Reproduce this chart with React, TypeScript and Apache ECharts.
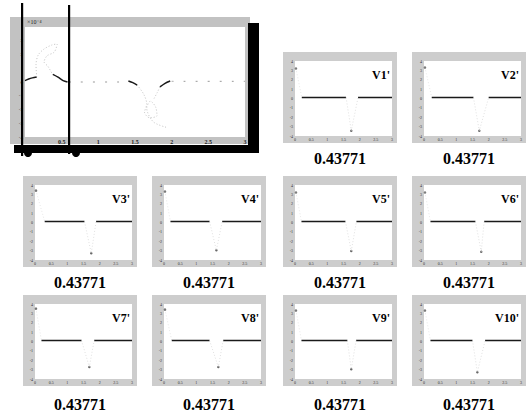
import { useEffect, useRef } from "react";
import * as echarts from "echarts";

// ---- small panels (V1'..V10') ----
const panelNames = ["V1'", "V2'", "V3'", "V4'", "V5'", "V6'", "V7'", "V8'", "V9'", "V10'"];
const panelValues = ["0.43771", "0.43771", "0.43771", "0.43771", "0.43771", "0.43771", "0.43771", "0.43771", "0.43771", "0.43771"];
const peakT = [0.03, 0.03, 0.03, 0.03, 0.03, 0.03, 0.03, 0.03, 0.03, 0.03];
const peakY = [3.2, 3.3, 3.4, 3.3, 3.2, 3.2, 3.5, 3.4, 3.3, 3.3];
const flatStart = [0.21, 0.24, 0.3, 0.2, 0.2, 0.2, 0.2, 0.24, 0.2, 0.2];
const baseY = [0.1, 0.1, 0.1, 0.1, 0.1, 0.1, 0.1, 0.1, 0.1, 0.1];
const gapStart = [1.58, 1.53, 1.53, 1.41, 1.56, 1.59, 1.44, 1.41, 1.62, 1.5];
const gapEnd = [1.95, 2.0, 1.89, 1.8, 1.9, 1.86, 1.83, 1.83, 1.89, 1.89];
const dipT = [1.74, 1.71, 1.74, 1.62, 1.74, 1.77, 1.68, 1.68, 1.74, 1.65];
const dipY = [-3.44, -3.44, -3.28, -2.96, -3.04, -3.12, -2.72, -2.72, -2.96, -3.28];
const tEnd = 3;

// ---- big panel ----
const bigXTicks = ["0.5", "1", "1.5", "2", "2.5", "3"];
const bigYUnit = "×10⁻⁴";
const bigArcA = [[0, 0.1], [0.05, 0.22], [0.1, 0.3], [0.16, 0.36]];
const bigLoopA = [[0.16, 0.36], [0.15, 1.24], [0.18, 1.96], [0.26, 2.4], [0.37, 2.7], [0.44, 2.76], [0.4, 2.18], [0.3, 1.9], [0.26, 1.45], [0.31, 1.16], [0.35, 0.8], [0.38, 0.51]];
const bigArcB = [[0.38, 0.55], [0.45, 0.35], [0.52, 0.1], [0.58, 0]];
const bigFlatA = [[0.6, 0], [1.4, 0]];
const bigArcC = [[1.41, 0.07], [1.47, -0.05], [1.53, -0.22]];
const bigLoopB = [[1.53, -0.22], [1.62, -0.9], [1.66, -1.6], [1.63, -2.2], [1.7, -2.6], [1.8, -2.45], [1.78, -1.8], [1.71, -1.4], [1.66, -1.9], [1.75, -2.9], [1.93, -3.3]];
const bigRise = [[1.76, -1.2], [1.8, -0.8], [1.84, -0.36]];
const bigArcD = [[1.84, -0.36], [1.91, -0.1], [1.98, 0.07]];
const bigFlatB = [[2.0, 0.05], [3, 0.05]];

const SERIF = "'Liberation Serif', 'DejaVu Serif', serif";

export default function App() {
  const ref = useRef<HTMLDivElement>(null);
  useEffect(() => {
    if (!ref.current) return;
    const chart = echarts.init(ref.current, null, { renderer: "svg" });

    const grids: any[] = [];
    const xAxes: any[] = [];
    const yAxes: any[] = [];
    const series: any[] = [];
    const graphics: any[] = [];

    // big panel frame
    graphics.push(
      { type: "rect", shape: { x: 10, y: 17, width: 240, height: 127 }, style: { fill: "#c2c2c2" }, z: -10 },
      { type: "rect", shape: { x: 248, y: 23, width: 11, height: 130 }, style: { fill: "#000" }, z: -9 },
      { type: "rect", shape: { x: 14, y: 145, width: 245, height: 8 }, style: { fill: "#000" }, z: -9 },
      { type: "rect", shape: { x: 21, y: 3, width: 2.2, height: 153 }, style: { fill: "#000" }, z: 20 },
      { type: "rect", shape: { x: 68, y: 5, width: 2.2, height: 149 }, style: { fill: "#000" }, z: 20 },
      { type: "circle", shape: { cx: 28, cy: 153, r: 4 }, style: { fill: "#000" }, z: 20 },
      { type: "circle", shape: { cx: 76, cy: 153, r: 4 }, style: { fill: "#000" }, z: 20 },
      { type: "text", x: 27, y: 19, style: { text: bigYUnit, fontSize: 6, fill: "#222", fontFamily: SERIF }, z: 20 }
    );

    grids.push({ left: 25, top: 27, width: 220, height: 110, show: true, backgroundColor: "#fff", borderWidth: 0 });
    xAxes.push({
      type: "value", gridIndex: 0, min: 0, max: 3, interval: 0.5,
      axisLine: { show: false }, axisTick: { show: false }, splitLine: { show: false },
      axisLabel: {
        fontSize: 6, color: "#222", margin: 2, fontFamily: SERIF, fontWeight: "bold",
        formatter: (v: number) => { const i = Math.round(v / 0.5) - 1; return i >= 0 ? bigXTicks[i] : ""; },
      },
    });
    yAxes.push({
      type: "value", gridIndex: 0, min: -4, max: 4, interval: 1,
      axisLine: { show: false }, axisTick: { show: false }, splitLine: { show: false },
      axisLabel: { fontSize: 5, color: "#222", margin: 2, fontFamily: SERIF, formatter: (v: number) => (v === 4 ? "" : String(v)) },
    });
    const dark = { color: "#1a1a1a", width: 1.5 };
    const faint = { color: "#b4b4b4", width: 0.8, type: [1, 2] };
    const addBig = (data: number[][], ls: any) =>
      series.push({ type: "line", xAxisIndex: 0, yAxisIndex: 0, data, showSymbol: false, smooth: 0.3, lineStyle: ls, silent: true });
    addBig(bigArcA, dark);
    addBig(bigLoopA, faint);
    addBig(bigArcB, dark);
    addBig(bigFlatA, { color: "#999", width: 1, type: [2, 10] });
    addBig(bigArcC, dark);
    addBig(bigLoopB, faint);
    addBig(bigRise, faint);
    addBig(bigArcD, dark);
    addBig(bigFlatB, { color: "#999", width: 1, type: [2, 10] });

    // small panels
    const colX = [23, 152, 283, 412];
    const rowY = [52, 176, 295];
    const labelY = [158, 282, 404];
    const pos = [[2, 0], [3, 0], [0, 1], [1, 1], [2, 1], [3, 1], [0, 2], [1, 2], [2, 2], [3, 2]];
    const fw = 114, fh = 91;
    panelNames.forEach((name, i) => {
      const [c, r] = pos[i];
      const fx = colX[c], fy = rowY[r];
      const gi = i + 1;
      graphics.push(
        { type: "rect", shape: { x: fx, y: fy, width: fw, height: fh }, style: { fill: "#cdcdcd" }, z: -10 },
        { type: "text", x: fx + fw - 7, y: fy + 17, style: { text: name, fontSize: 12, fontWeight: "bold", fill: "#000", fontFamily: SERIF, align: "right" }, z: 20 },
        { type: "text", x: fx + fw / 2, y: labelY[r], style: { text: panelValues[i], fontSize: 16, fontWeight: "bold", fill: "#000", fontFamily: SERIF, align: "center", verticalAlign: "middle" }, z: 20 }
      );
      grids.push({ left: fx + 12, top: fy + 9, width: fw - 17, height: fh - 16, show: true, backgroundColor: "#fff", borderWidth: 0 });
      xAxes.push({
        type: "value", gridIndex: gi, min: 0, max: tEnd, interval: 0.5,
        axisLine: { show: false }, axisTick: { show: false }, splitLine: { show: false },
        axisLabel: { fontSize: 4, color: "#333", margin: 1, fontFamily: SERIF },
      });
      yAxes.push({
        type: "value", gridIndex: gi, min: -4, max: 4, interval: 1,
        axisLine: { show: false }, axisTick: { show: false }, splitLine: { show: false },
        axisLabel: { fontSize: 4, color: "#333", margin: 2, fontFamily: SERIF },
      });
      const common = { type: "line", xAxisIndex: gi, yAxisIndex: gi, showSymbol: false, silent: true };
      series.push({ ...common, data: [[peakT[i], peakY[i]], [flatStart[i], baseY[i]]], smooth: 0.4, lineStyle: { color: "#dedede", width: 0.7, type: [1, 2] } });
      series.push({ ...common, data: [[flatStart[i], baseY[i]], [gapStart[i], baseY[i]]], lineStyle: { color: "#1a1a1a", width: 1.4 } });
      series.push({ ...common, data: [[gapEnd[i], baseY[i]], [tEnd, baseY[i]]], lineStyle: { color: "#1a1a1a", width: 1.4 } });
      series.push({ ...common, data: [[gapStart[i], baseY[i]], [dipT[i], dipY[i]], [gapEnd[i], baseY[i]]], lineStyle: { color: "#d2d2d2", width: 0.7, type: [1, 2] } });
      series.push({ type: "scatter", xAxisIndex: gi, yAxisIndex: gi, data: [[peakT[i], peakY[i]], [dipT[i], dipY[i]]], symbolSize: 2.5, itemStyle: { color: "#444" }, silent: true });
    });

    chart.setOption({
      animation: false,
      backgroundColor: "#fff",
      grid: grids,
      xAxis: xAxes,
      yAxis: yAxes,
      series,
      graphic: graphics,
    });
    return () => chart.dispose();
  }, []);
  return <div ref={ref} style={{ position: "absolute", left: 0, top: 0, width: 531, height: 418 }} />;
}
